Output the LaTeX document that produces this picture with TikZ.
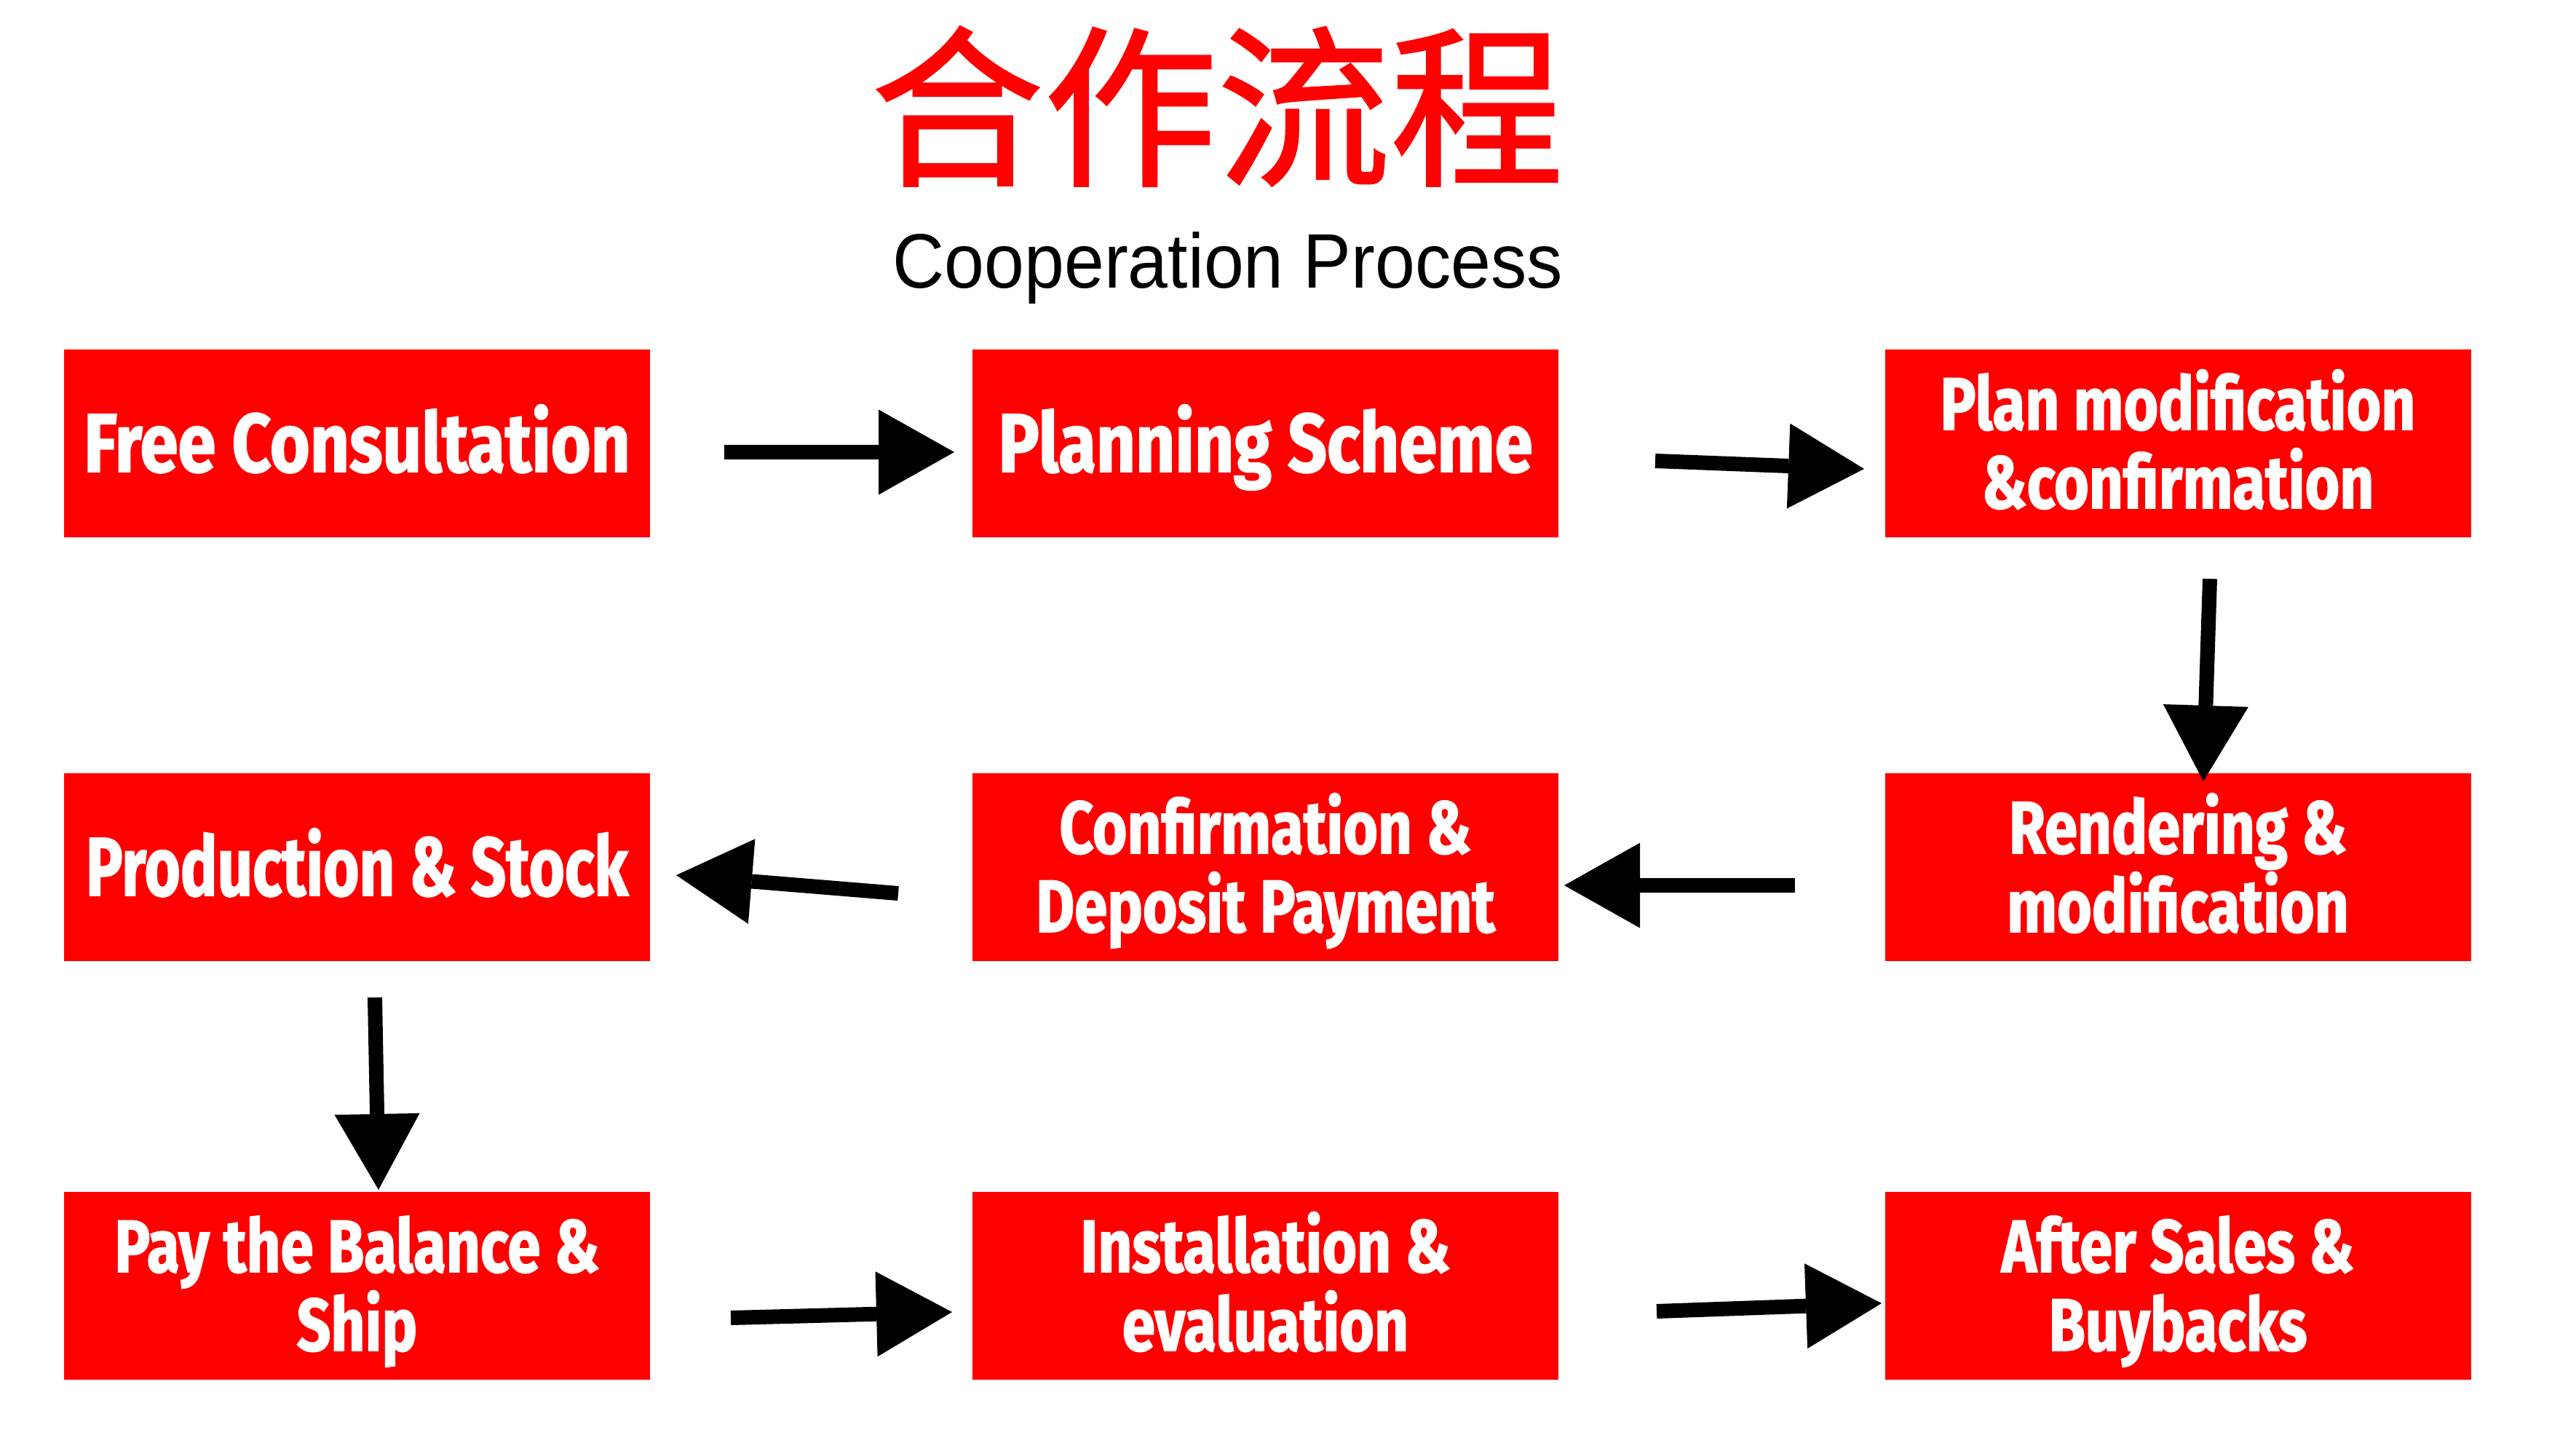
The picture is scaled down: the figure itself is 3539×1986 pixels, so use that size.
\documentclass[tikz,border=0pt]{standalone}
\usepackage{fontspec}
\usetikzlibrary{arrows.meta}
\newfontfamily\cjkfont{Noto Sans CJK SC}[FakeBold=1.2]
\newfontfamily\subfont{Liberation Sans}[FakeStretch=0.93]
\newfontfamily\boxfontA{Fira Sans}[FakeStretch=0.825, FakeBold=1.5]
\newfontfamily\boxfontB{Fira Sans}[FakeStretch=0.80, FakeBold=1.5]
\definecolor{boxred}{RGB}{255,0,0}
\tikzset{
  redbox/.style={rectangle, fill=boxred, draw=none, minimum width=805pt,
    minimum height=258pt, inner sep=0pt, text=white, align=center},
  stepbox/.style={redbox, text height=178pt, text depth=0pt,
    font=\boxfontB\bfseries\fontsize{102pt}{108pt}\selectfont},
  onebox/.style={redbox, text height=78pt, text depth=0pt,
    font=\boxfontA\bfseries\fontsize{114pt}{116pt}\selectfont},
  flow/.style={line width=20pt, draw=black,
    -{Triangle[length=104pt,width=117pt,line width=0pt 0 0]}},
  titletext/.style={inner sep=0pt, anchor=base, text=boxred,
    font=\cjkfont\fontsize{238pt}{245pt}\selectfont},
  subtext/.style={inner sep=0pt, anchor=base, text=black,
    font=\subfont\fontsize{106pt}{110pt}\selectfont},
}
\begin{document}
\begin{tikzpicture}[x=1pt,y=-1pt]
\fill[white] (0,0) rectangle (3539,1986);
\useasboundingbox (0,0) rectangle (3539,1986);

\node[titletext] (title) at (1672,237) {合作流程};
\node[subtext] (subtitle) at (1687,395) {Cooperation Process};

\node[onebox] (n1) at (490.5,609) {Free Consultation};
\node[onebox] (n2) at (1738.5,609) {Planning Scheme};
\node[stepbox] (n3) at (2992,609) {Plan modification\\\&confirmation};
\node[stepbox] (n4) at (2992,1191) {Rendering \&\\modification};
\node[stepbox] (n5) at (1738.5,1191) {Confirmation \&\\Deposit Payment};
\node[onebox] (n6) at (490.5,1191) {\scalebox{0.9}[1]{Production \& Stock}};
\node[stepbox] (n7) at (490.5,1766) {Pay the Balance \&\\Ship};
\node[stepbox] (n8) at (1738.5,1766) {Installation \&\\evaluation};
\node[stepbox] (n9) at (2992,1766) {After Sales \&\\Buybacks};

\coordinate (a1s) at (995,621);   \coordinate (a1e) at (1311,621);
\coordinate (a2s) at (2274,633);  \coordinate (a2e) at (2561,644);
\coordinate (a3s) at (3036,795);  \coordinate (a3e) at (3027,1073);
\coordinate (a4s) at (2466,1216); \coordinate (a4e) at (2149,1216);
\coordinate (a5s) at (1234,1227); \coordinate (a5e) at (929,1202);
\coordinate (a6s) at (515,1370);  \coordinate (a6e) at (520,1634);
\coordinate (a7s) at (1004,1810); \coordinate (a7e) at (1308,1802);
\coordinate (a8s) at (2276,1801); \coordinate (a8e) at (2585,1790);

\draw[flow] (a1s) -- (a1e);
\draw[flow] (a2s) -- (a2e);
\draw[flow] (a3s) -- (a3e);
\draw[flow] (a4s) -- (a4e);
\draw[flow] (a5s) -- (a5e);
\draw[flow] (a6s) -- (a6e);
\draw[flow] (a7s) -- (a7e);
\draw[flow] (a8s) -- (a8e);
\end{tikzpicture}
\end{document}
